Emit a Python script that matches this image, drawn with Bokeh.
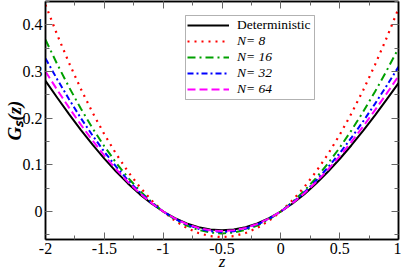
from bokeh.plotting import figure
from bokeh.models import (Range1d, LinearAxis, SingleIntervalTicker, CustomJSTickFormatter,
                          Legend, LegendItem, BoxAnnotation)
from bokeh.embed import file_html
from bokeh.resources import INLINE

# ---------------- data ----------------
z = [-2.0, -1.9, -1.8, -1.7, -1.6, -1.5, -1.4, -1.3, -1.2, -1.1, -1.0,
     -0.9, -0.8, -0.7, -0.6, -0.5, -0.4, -0.3, -0.2, -0.1, 0.0,
     0.1, 0.2, 0.3, 0.4, 0.5, 0.6, 0.7, 0.8, 0.9, 1.0]

g_det = [0.2799, 0.2438, 0.2087, 0.1751, 0.1432, 0.1133, 0.0855, 0.0602, 0.0373, 0.0172, 0.0000,
         -0.0143, -0.0255, -0.0335, -0.0384, -0.0400, -0.0384, -0.0335, -0.0255, -0.0143, 0.0000,
         0.0172, 0.0372, 0.0599, 0.0851, 0.1125, 0.1420, 0.1733, 0.2061, 0.2401, 0.2750]

g_n8 = [0.4429, 0.3784, 0.3184, 0.2629, 0.2119, 0.1655, 0.1235, 0.0859, 0.0529, 0.0242, 0.0000,
        -0.0198, -0.0352, -0.0462, -0.0528, -0.0550, -0.0528, -0.0462, -0.0352, -0.0198, 0.0000,
        0.0242, 0.0527, 0.0855, 0.1227, 0.1642, 0.2099, 0.2599, 0.3141, 0.3725, 0.4350]

g_n16 = [0.3680, 0.3155, 0.2664, 0.2207, 0.1784, 0.1397, 0.1045, 0.0729, 0.0449, 0.0206, 0.0000,
         -0.0169, -0.0301, -0.0395, -0.0451, -0.0470, -0.0451, -0.0394, -0.0300, -0.0168, 0.0000,
         0.0205, 0.0444, 0.0719, 0.1027, 0.1367, 0.1738, 0.2138, 0.2567, 0.3021, 0.3500]

g_n32 = [0.3280, 0.2831, 0.2405, 0.2003, 0.1628, 0.1280, 0.0961, 0.0673, 0.0416, 0.0191, 0.0000,
         -0.0158, -0.0281, -0.0369, -0.0422, -0.0440, -0.0422, -0.0369, -0.0280, -0.0157, 0.0000,
         0.0190, 0.0411, 0.0663, 0.0943, 0.1250, 0.1581, 0.1934, 0.2307, 0.2697, 0.3100]

g_n64 = [0.3000, 0.2605, 0.2225, 0.1862, 0.1520, 0.1200, 0.0905, 0.0635, 0.0394, 0.0182, 0.0000,
         -0.0150, -0.0268, -0.0352, -0.0403, -0.0420, -0.0403, -0.0352, -0.0267, -0.0150, 0.0000,
         0.0181, 0.0391, 0.0630, 0.0894, 0.1183, 0.1494, 0.1824, 0.2171, 0.2530, 0.2900]

series_labels = ["Deterministic", "N= 8", "N= 16", "N= 32", "N= 64"]
x_title = "z"
y_title = "G\u209b(z)"

# ---------------- figure (fixed frame so legend pixels and data agree) ----------------
FONT = "Liberation Serif"
FW, FH = 353, 238
X0, X1, Y0, Y1 = -2.0, 1.0, -0.06, 0.45
p = figure(frame_width=FW, frame_height=FH, output_backend="svg", toolbar_location=None,
           x_range=Range1d(X0, X1), y_range=Range1d(Y0, Y1),
           min_border_left=0, min_border_right=3, min_border_top=1, min_border_bottom=0,
           x_axis_location=None, y_axis_location=None)
p.grid.visible = False
p.outline_line_color = "black"
p.outline_line_width = 1.5
p.background_fill_color = "white"
p.border_fill_color = "white"

label_fmt = CustomJSTickFormatter(code="return (Math.round(tick*100)/100).toString();")
blank_fmt = CustomJSTickFormatter(code="return '';")


def style_axis(ax, show_labels):
    ax.axis_line_color = "black"
    ax.axis_line_width = 1.5
    ax.major_tick_in = 7
    ax.major_tick_out = 0
    ax.minor_tick_in = 4
    ax.minor_tick_out = 0
    ax.major_tick_line_color = "#666666"
    ax.minor_tick_line_color = "#666666"
    ax.major_tick_line_width = 1
    ax.minor_tick_line_width = 1
    ax.major_label_text_font = FONT
    ax.major_label_text_font_size = "16px"
    ax.major_label_text_color = "black"
    ax.major_label_standoff = 3
    if not show_labels:
        ax.major_label_text_font_size = "0px"
        ax.major_label_standoff = 0


xb = LinearAxis(ticker=SingleIntervalTicker(interval=0.5, num_minor_ticks=2), formatter=label_fmt)
xt = LinearAxis(ticker=SingleIntervalTicker(interval=0.5, num_minor_ticks=2), formatter=blank_fmt)
yl = LinearAxis(ticker=SingleIntervalTicker(interval=0.1, num_minor_ticks=2), formatter=label_fmt)
yr = LinearAxis(ticker=SingleIntervalTicker(interval=0.1, num_minor_ticks=2), formatter=blank_fmt)
style_axis(xb, True)
style_axis(yl, True)
style_axis(xt, False)
style_axis(yr, False)

xb.axis_label = x_title
xb.axis_label_text_font = FONT
xb.axis_label_text_font_size = "17px"
xb.axis_label_text_font_style = "italic"
xb.axis_label_text_color = "black"
xb.axis_label_standoff = -5

yl.axis_label = y_title
yl.axis_label_text_font = FONT
yl.axis_label_text_font_size = "19px"
yl.axis_label_text_font_style = "bold italic"
yl.axis_label_text_color = "black"
yl.axis_label_standoff = -5

p.add_layout(xb, "below")
p.add_layout(yl, "left")
p.add_layout(xt, "above")
p.add_layout(yr, "right")

# ---------------- curves ----------------
r_det = p.line(z, g_det, line_color="black", line_width=2)
r_n8 = p.line(z, g_n8, line_color="#ff0000", line_width=2.2, line_dash="2 5")
r_n16 = p.line(z, g_n16, line_color="#00a000", line_width=2, line_dash="8 4 2 4")
r_n32 = p.line(z, g_n32, line_color="#0000ff", line_width=2, line_dash="6 3 2 3")
r_n64 = p.line(z, g_n64, line_color="#ff00ff", line_width=2, line_dash="8 4")

# ---------------- legend (frame pixels, measured from the frame's top-left) ----------------
ROW = 16          # legend row height in px
BOX_L, BOX_R, BOX_T = 140, 269, 14
PAD = 2


def make_legend(items, style, loc):
    lg = Legend(items=items, location=loc, orientation="vertical")
    lg.label_text_font = FONT
    lg.label_text_font_size = "13.5px"
    lg.label_text_font_style = style
    lg.label_text_color = "black"
    lg.glyph_width = 42
    lg.glyph_height = ROW
    lg.label_height = ROW
    lg.label_standoff = 8
    lg.spacing = 0
    lg.padding = 0
    lg.margin = 0
    lg.border_line_alpha = 0
    lg.background_fill_color = "white"
    lg.background_fill_alpha = 1
    return lg


a_top = BOX_T + PAD
b_top = a_top + ROW
leg_a = make_legend([LegendItem(label=series_labels[0], renderers=[r_det])], "normal",
                    (BOX_L + PAD, FH - (a_top + ROW)))
leg_b = make_legend([LegendItem(label=series_labels[1], renderers=[r_n8]),
                     LegendItem(label=series_labels[2], renderers=[r_n16]),
                     LegendItem(label=series_labels[3], renderers=[r_n32]),
                     LegendItem(label=series_labels[4], renderers=[r_n64])], "italic",
                    (BOX_L + PAD, FH - (b_top + 4 * ROW)))
p.add_layout(leg_a, "center")
p.add_layout(leg_b, "center")

box_b = b_top + 4 * ROW + PAD
sx = (X1 - X0) / FW
sy = (Y1 - Y0) / FH
legend_box = BoxAnnotation(left=X0 + BOX_L * sx, right=X0 + BOX_R * sx,
                           top=Y1 - BOX_T * sy, bottom=Y1 - box_b * sy,
                           fill_alpha=0, line_color="black", line_width=1)
p.add_layout(legend_box)

open("out.html", "w").write(file_html(p, INLINE))
